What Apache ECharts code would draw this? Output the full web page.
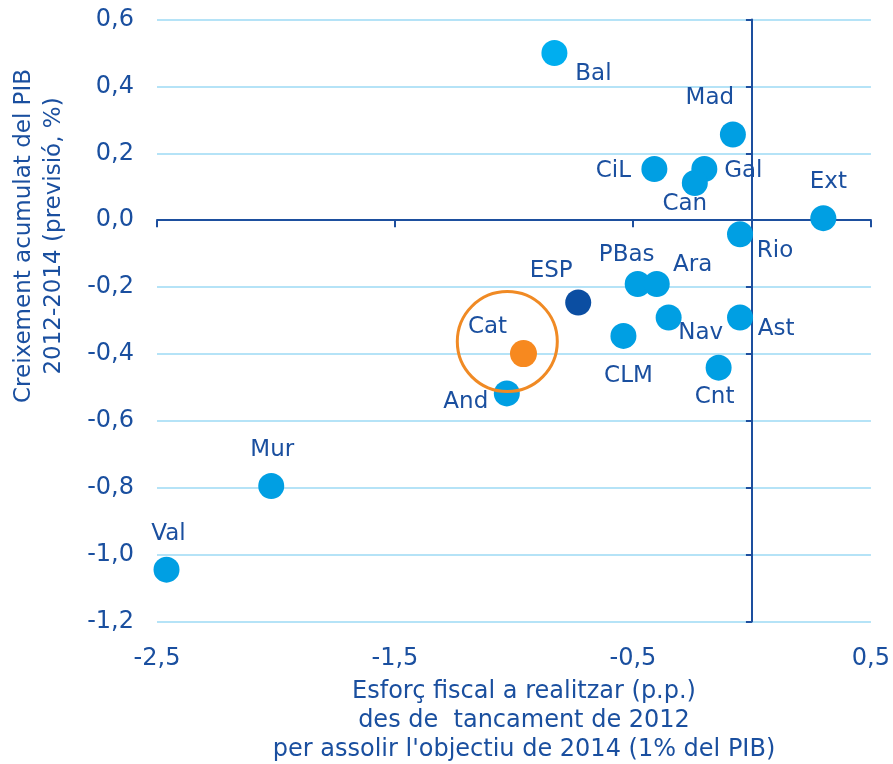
<!DOCTYPE html>
<html>
<head>
<meta charset="utf-8">
<script src="https://cdn.jsdelivr.net/npm/echarts@6/dist/echarts.min.js"></script>
<style>
  html, body { margin: 0; padding: 0; background: #fff; }
  #chart { width: 893px; height: 764px; }
</style>
</head>
<body>
<div id="chart"></div>
<script>
// comunitats autònomes
var regions = ['Bal', 'Mad', 'CiL', 'Gal', 'Can', 'Ext', 'Rio', 'PBas', 'Ara', 'Nav', 'Ast', 'CLM', 'Cnt', 'And', 'Mur', 'Val'];
var effortX = [-0.83, -0.08, -0.41, -0.20, -0.24, 0.30, -0.05, -0.48, -0.40, -0.35, -0.05, -0.54, -0.14, -1.03, -2.02, -2.46];
var growthY = [0.50, 0.256, 0.153, 0.153, 0.111, 0.006, -0.042, -0.191, -0.191, -0.291, -0.291, -0.346, -0.441, -0.518, -0.795, -1.045];

var espPoint = [-0.73, -0.246];
var catPoint = [-0.96, -0.399];
var catRing = [-1.028, -0.363];

var xTickValues = [-2.5, -1.5, -0.5, 0.5];
var yMin = -1.2, yMax = 0.6, yStep = 0.2;

// posicio de cada etiqueta respecte al punt (px)
var labelOffsets = {
  Bal: [39, 21], Mad: [-23, -37], CiL: [-41, 2], Gal: [39, 2], Can: [-10, 21],
  Ext: [5, -36], Rio: [35, 17], PBas: [-11, -29], Ara: [36, -19], Nav: [32, 16],
  Ast: [36, 12], CLM: [5, 40], Cnt: [-4, 29], And: [-41, 9], Mur: [1, -36],
  Val: [2, -36], ESP: [-27, -31], Cat: [-36, -27]
};

var textColor = '#1a4f9f';
var axisColor = '#1d4f9e';
var fontFamily = '"DejaVu Sans", sans-serif';

function comma(v) {
  return (Math.round(v * 10) / 10).toFixed(1).replace('.', ',');
}

function pointLabel(name) {
  return {
    show: true,
    position: 'inside',
    offset: labelOffsets[name],
    formatter: name,
    color: textColor,
    fontSize: 23,
    fontFamily: fontFamily
  };
}

var regionData = regions.map(function (name, i) {
  return {
    name: name,
    value: [effortX[i], growthY[i]],
    label: pointLabel(name),
    itemStyle: { color: name === 'Bal' ? '#00aeef' : '#009fe3', opacity: 1 }
  };
});

var chart = echarts.init(document.getElementById('chart'));

var option = {
  backgroundColor: '#fff',
  animation: false,
  grid: { left: 157, right: 22, top: 19.5, bottom: 142.5 },
  xAxis: [{
    type: 'value',
    min: -2.5,
    max: 0.5,
    interval: 0.5,
    position: 'bottom',
    axisLine: { show: true, onZero: true, lineStyle: { color: axisColor, width: 2 } },
    axisTick: { show: true, customValues: xTickValues, length: 7, lineStyle: { color: axisColor, width: 2 } },
    axisLabel: { show: false },
    splitLine: { show: false }
  }, {
    type: 'value',
    min: -2.5,
    max: 0.5,
    interval: 0.5,
    position: 'bottom',
    axisLine: { show: false, onZero: false },
    axisTick: { show: false },
    axisLabel: {
      customValues: xTickValues,
      margin: 25,
      color: textColor,
      fontSize: 24,
      fontFamily: fontFamily,
      formatter: comma
    },
    splitLine: { show: false }
  }],
  yAxis: [{
    type: 'value',
    min: yMin,
    max: yMax,
    interval: yStep,
    position: 'left',
    axisLine: { show: true, onZero: true, lineStyle: { color: axisColor, width: 2 } },
    axisTick: { show: true, length: 6, lineStyle: { color: axisColor, width: 2 } },
    axisLabel: { show: false },
    splitLine: { show: false }
  }, {
    type: 'value',
    min: yMin,
    max: yMax,
    interval: yStep,
    position: 'left',
    axisLine: { show: false, onZero: false },
    axisTick: { show: false },
    axisLabel: {
      margin: 23,
      color: textColor,
      fontSize: 24,
      fontFamily: fontFamily,
      formatter: comma
    },
    splitLine: { show: true, lineStyle: { color: '#b5e3f7', width: 2 } }
  }],
  graphic: [{
    type: 'text',
    x: 39,
    y: 236,
    rotation: Math.PI / 2,
    style: {
      text: 'Creixement acumulat del PIB\n2012-2014 (previsió, %)',
      fill: textColor,
      font: '23px ' + fontFamily,
      align: 'center',
      verticalAlign: 'middle',
      lineHeight: 30
    }
  }, {
    type: 'text',
    x: 524,
    y: 721,
    style: {
      text: 'Esforç fiscal a realitzar (p.p.)\ndes de  tancament de 2012\nper assolir l\'objectiu de 2014 (1% del PIB)',
      fill: textColor,
      font: '24px ' + fontFamily,
      align: 'center',
      verticalAlign: 'middle',
      lineHeight: 29
    }
  }],
  series: [{
    type: 'scatter',
    xAxisIndex: 0,
    yAxisIndex: 0,
    symbolSize: 26,
    data: regionData
  }, {
    type: 'scatter',
    xAxisIndex: 0,
    yAxisIndex: 0,
    symbolSize: 26,
    itemStyle: { color: '#0b4ea2', opacity: 1 },
    data: [{ name: 'ESP', value: espPoint, label: pointLabel('ESP') }]
  }, {
    type: 'scatter',
    xAxisIndex: 0,
    yAxisIndex: 0,
    symbolSize: 27,
    itemStyle: { color: '#f7891f', opacity: 1 },
    data: [{ name: 'Cat', value: catPoint, label: pointLabel('Cat') }]
  }, {
    type: 'scatter',
    xAxisIndex: 0,
    yAxisIndex: 0,
    symbolSize: 100,
    silent: true,
    itemStyle: { color: 'rgba(0,0,0,0)', borderColor: '#f08a24', borderWidth: 3, opacity: 1 },
    data: [catRing]
  }]
};

chart.setOption(option);
</script>
</body>
</html>
